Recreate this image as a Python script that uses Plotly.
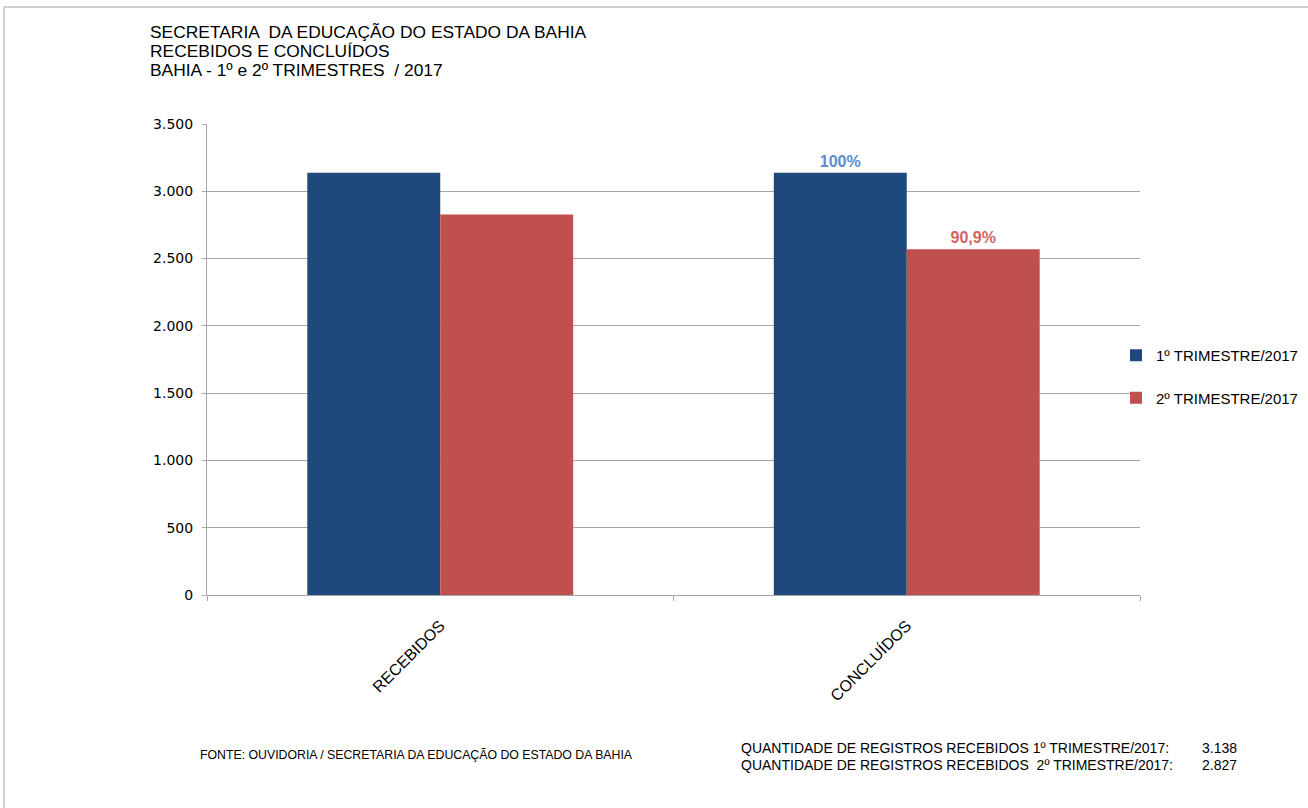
import plotly.graph_objects as go

categories = ["RECEBIDOS", "CONCLUÍDOS"]
series_names = ["1º TRIMESTRE/2017", "2º TRIMESTRE/2017"]
values_t1 = [3138, 3138]
values_t2 = [2827, 2570]
labels_t1 = ["", "100%"]
labels_t2 = ["", "90,9%"]
y_ticks = [0, 500, 1000, 1500, 2000, 2500, 3000, 3500]
title_lines = ["SECRETARIA  DA EDUCAÇÃO DO ESTADO DA BAHIA",
               "RECEBIDOS E CONCLUÍDOS",
               "BAHIA - 1º e 2º TRIMESTRES  / 2017"]
source_text = "FONTE: OUVIDORIA / SECRETARIA DA EDUCAÇÃO DO ESTADO DA BAHIA"
totals_labels = ["QUANTIDADE DE REGISTROS RECEBIDOS 1º TRIMESTRE/2017:",
                 "QUANTIDADE DE REGISTROS RECEBIDOS  2º TRIMESTRE/2017:"]
totals_values = [3138, 2827]

W, H = 1308, 808
L, R, T, B = 207, 1140, 124, 595


def px(x):
    return (x - L) / (R - L)


def py(y):
    return (B - y) / (B - T)


def fmt(n):
    return f"{n:,}".replace(",", ".")


blue = "#1F497D"
red = "#C0504D"
grid = "#A6A6A6"
font = "Liberation Sans, Arial, sans-serif"

fig = go.Figure()
fig.add_trace(go.Bar(
    x=categories, y=values_t1, name=series_names[0], marker_color=blue,
    marker_line_width=0, text=labels_t1, textposition="outside",
    textfont=dict(family=font, size=16, color="#5B8BD0", weight="bold"),
    cliponaxis=False, legendgroup="a"))
fig.add_trace(go.Bar(
    x=categories, y=values_t2, name=series_names[1], marker_color=red,
    marker_line_width=0, text=labels_t2, textposition="outside",
    textfont=dict(family=font, size=16, color="#D0655F", weight="bold"),
    cliponaxis=False, legendgroup="b"))

annotations = []
for i, line in enumerate(title_lines):
    annotations.append(dict(
        text=line, xref="paper", yref="paper",
        x=px(148), y=py(32 + i * 19), xanchor="left", yanchor="middle",
        align="left", showarrow=False,
        font=dict(family=font, size=17.4, color="#000000")))
annotations.append(dict(
    text=source_text, xref="paper", yref="paper", x=px(198), y=py(755),
    xanchor="left", yanchor="middle", showarrow=False,
    font=dict(family=font, size=12.3, color="#000000")))
for i, (lab, val) in enumerate(zip(totals_labels, totals_values)):
    yy = 748 + i * 17
    annotations.append(dict(
        text=lab, xref="paper", yref="paper", x=px(739), y=py(yy),
        xanchor="left", yanchor="middle", showarrow=False,
        font=dict(family=font, size=14, color="#000000")))
    annotations.append(dict(
        text=fmt(val), xref="paper", yref="paper", x=px(1239), y=py(yy),
        xanchor="right", yanchor="middle", showarrow=False,
        font=dict(family=font, size=14, color="#000000")))

shapes = [dict(type="rect", xref="paper", yref="paper",
               x0=px(4), x1=px(1330), y0=py(830), y1=py(7),
               line=dict(color="#A0A0A0", width=1), layer="below")]

fig.update_layout(
    width=W, height=H,
    margin=dict(l=L, r=W - R, t=T, b=H - B, pad=0, autoexpand=False),
    paper_bgcolor="white", plot_bgcolor="white",
    barmode="group", bargap=0.43, bargroupgap=0,
    separators=",.",
    font=dict(family=font, color="#000000"),
    showlegend=True,
    legend=dict(x=px(1116), y=py(339), xanchor="left", yanchor="top",
                font=dict(family=font, size=15, color="#000000"),
                itemwidth=30, tracegroupgap=20, traceorder="grouped",
                bgcolor="rgba(0,0,0,0)"),
    annotations=annotations, shapes=shapes,
)
fig.update_yaxes(
    range=[0, 3500], tickvals=y_ticks, tickformat=",d",
    showgrid=True, gridcolor=grid, gridwidth=1,
    showline=True, linecolor=grid, linewidth=1,
    ticks="outside", ticklen=4, tickcolor=grid,
    tickfont=dict(family="DejaVu Sans, Verdana, sans-serif", size=14, color="#000000"),
    ticklabelstandoff=6, zeroline=False, fixedrange=True)
fig.update_xaxes(
    showline=True, linecolor=grid, linewidth=1,
    ticks="outside", ticklen=5, tickcolor=grid, tickson="boundaries",
    tickangle=-45, tickfont=dict(family=font, size=16, color="#000000"),
    ticklabelstandoff=14, showgrid=False, fixedrange=True)

fig.write_html("out.html")
